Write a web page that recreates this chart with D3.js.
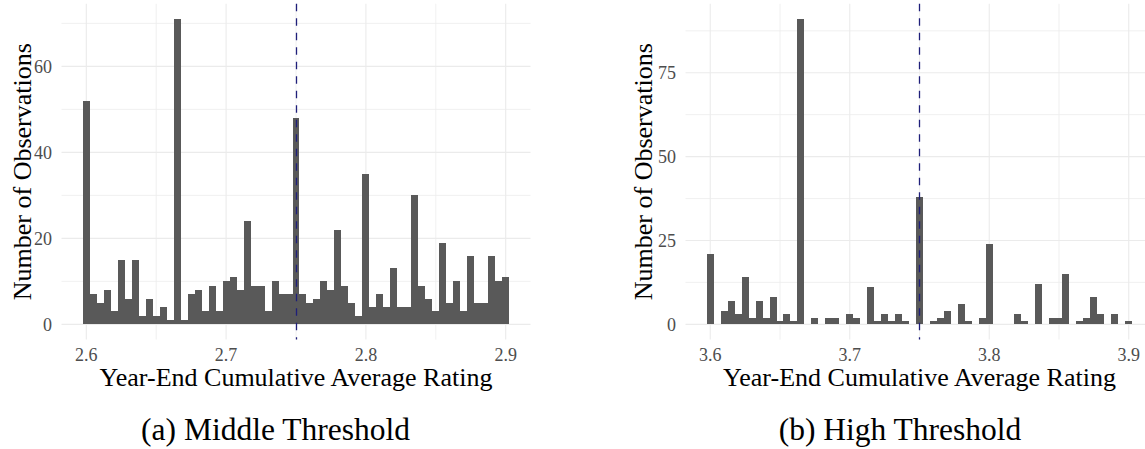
<!DOCTYPE html>
<html>
<head>
<meta charset="utf-8">
<script src="https://cdn.jsdelivr.net/npm/d3@7"></script>
</head>
<body style="margin:0">
<svg id="fig" width="1145" height="449"></svg>
<script>
// histogram counts, one per 0.005 bin
var middleCounts = [52,7,5,8,3,15,6,15,2,6, 2,4,1,71,1,7,8,3,9,3, 10,11,8,24,9,9,3,10,7,7,
	48,7,5,6,10,8,22,9,5,2, 35,4,7,4,13,4,4,30,9,6, 3,19,5,10,3,16,5,5,16,10, 11];
var highCounts = [21,0,4,7,3,14,2,7,2,8, 1,3,1,91,0,2,0,2,2,0, 3,2,0,11,1,3,1,3,1,0,
	38,0,1,2,4,0,6,1,0,2, 24,0,0,0,3,1,0,12,0,2, 2,15,0,1,2,8,3,0,3,0, 1];
var middleStart = 2.6, highStart = 3.6, binWidth = 0.005;
var middleThreshold = 2.75, highThreshold = 3.75;
var middleXTicks = [2.6, 2.7, 2.8, 2.9], highXTicks = [3.6, 3.7, 3.8, 3.9];
var middleYTicks = [0, 20, 40, 60], highYTicks = [0, 25, 50, 75];
var middleYMinor = [10, 30, 50, 70], highYMinor = [12.5, 37.5, 62.5, 87.5];
var xTitle = "Year-End Cumulative Average Rating";
var yTitle = "Number of Observations";
var captions = ["(a) Middle Threshold", "(b) High Threshold"];

var svg = d3.select("#fig");

var drawHist = function(opt){
	var counts = opt.counts;
	var bins = counts.map(function(c, i){
		return {x: opt.start + i * binWidth, n: c};
	});
	var lo = opt.start - binWidth / 2, hi = opt.start + (counts.length - 1) * binWidth + binWidth / 2;
	var xpad = (hi - lo) * 0.05;
	var ymax = d3.max(counts), ypad = ymax * 0.05;

	var xScale = d3.scaleLinear().domain([lo - xpad, hi + xpad]).range(opt.xRange);
	var yScale = d3.scaleLinear().domain([-ypad, ymax + ypad]).range([339.6, 3.8]);

	var g = svg.append("g");
	var y0 = yScale.range()[1], y1 = yScale.range()[0];
	var left = opt.xRange[0], right = opt.xRange[1];

	// grid
	var minorX = opt.xTicks.slice(0, -1).map(function(t){ return t + 0.05; });
	g.selectAll(".vminor").data(minorX).enter().append("line")
		.attr("x1", function(d){return xScale(d);}).attr("x2", function(d){return xScale(d);})
		.attr("y1", y0).attr("y2", y1)
		.style("stroke", "#ececec").style("stroke-width", 0.8);
	g.selectAll(".hminor").data(opt.yMinor).enter().append("line")
		.attr("y1", function(d){return yScale(d);}).attr("y2", function(d){return yScale(d);})
		.attr("x1", left).attr("x2", right)
		.style("stroke", "#ececec").style("stroke-width", 0.8);
	g.selectAll(".vmajor").data(opt.xTicks).enter().append("line")
		.attr("x1", function(d){return xScale(d);}).attr("x2", function(d){return xScale(d);})
		.attr("y1", y0).attr("y2", y1)
		.style("stroke", "#ebebeb").style("stroke-width", 1.1);
	g.selectAll(".hmajor").data(opt.yTicks).enter().append("line")
		.attr("y1", function(d){return yScale(d);}).attr("y2", function(d){return yScale(d);})
		.attr("x1", left).attr("x2", right)
		.style("stroke", "#ebebeb").style("stroke-width", 1.1);

	// bars
	g.selectAll(".bar").data(bins.filter(function(d){return d.n > 0;})).enter().append("rect")
		.attr("x", function(d){return xScale(d.x - binWidth / 2);})
		.attr("width", function(d){return xScale(d.x + binWidth / 2) - xScale(d.x - binWidth / 2);})
		.attr("y", function(d){return yScale(d.n);})
		.attr("height", function(d){return yScale(0) - yScale(d.n);})
		.style("fill", "#595959")
		.style("shape-rendering", "crispEdges");

	// threshold, snapped to a pixel so it stays dark
	var tx = Math.floor(xScale(opt.threshold)) + 0.5;
	g.append("line")
		.attr("x1", tx).attr("x2", tx)
		.attr("y1", y0).attr("y2", y1)
		.style("stroke", "#1f1f7a").style("stroke-width", 1.3)
		.style("stroke-dasharray", "7.5,7");

	// tick labels
	g.selectAll(".xt").data(opt.xTicks).enter().append("text")
		.attr("x", function(d){return xScale(d);}).attr("y", 360.5)
		.attr("text-anchor", "middle")
		.attr("font-family", "Liberation Serif").attr("font-size", 18).attr("fill", "#4d4d4d")
		.text(function(d){return d3.format(".1f")(d);});
	g.selectAll(".yt").data(opt.yTicks).enter().append("text")
		.attr("x", left - 9.5).attr("y", function(d){return yScale(d);})
		.attr("dy", "0.35em")
		.attr("text-anchor", "end")
		.attr("font-family", "Liberation Serif").attr("font-size", 18).attr("fill", "#4d4d4d")
		.text(function(d){return d;});

	// titles
	g.append("text")
		.attr("x", (left + right) / 2)
		.attr("y", 385.5)
		.attr("text-anchor", "middle")
		.attr("font-family", "Liberation Serif").attr("font-size", 26).attr("fill", "#000")
		.text(xTitle);

	g.append("text")
		.attr("transform", "translate(" + opt.yTitleX + "," + ((y0 + y1) / 2) + ") rotate(-90)")
		.attr("text-anchor", "middle")
		.attr("font-family", "Liberation Serif").attr("font-size", 26).attr("fill", "#000")
		.text(yTitle);

	g.append("text")
		.attr("x", opt.captionX).attr("y", 439.5)
		.attr("text-anchor", "middle")
		.attr("font-family", "Liberation Serif").attr("font-size", 31.5).attr("fill", "#000")
		.text(opt.caption);
};

drawHist({counts: middleCounts, start: middleStart, threshold: middleThreshold,
	xTicks: middleXTicks, yTicks: middleYTicks, yMinor: middleYMinor,
	xRange: [61.5, 530.5], yTitleX: 30.5,
	caption: captions[0], captionX: 275.5});

drawHist({counts: highCounts, start: highStart, threshold: highThreshold,
	xTicks: highXTicks, yTicks: highYTicks, yMinor: highYMinor,
	xRange: [685.5, 1153.5], yTitleX: 652,
	caption: captions[1], captionX: 900});
</script>
</body>
</html>
